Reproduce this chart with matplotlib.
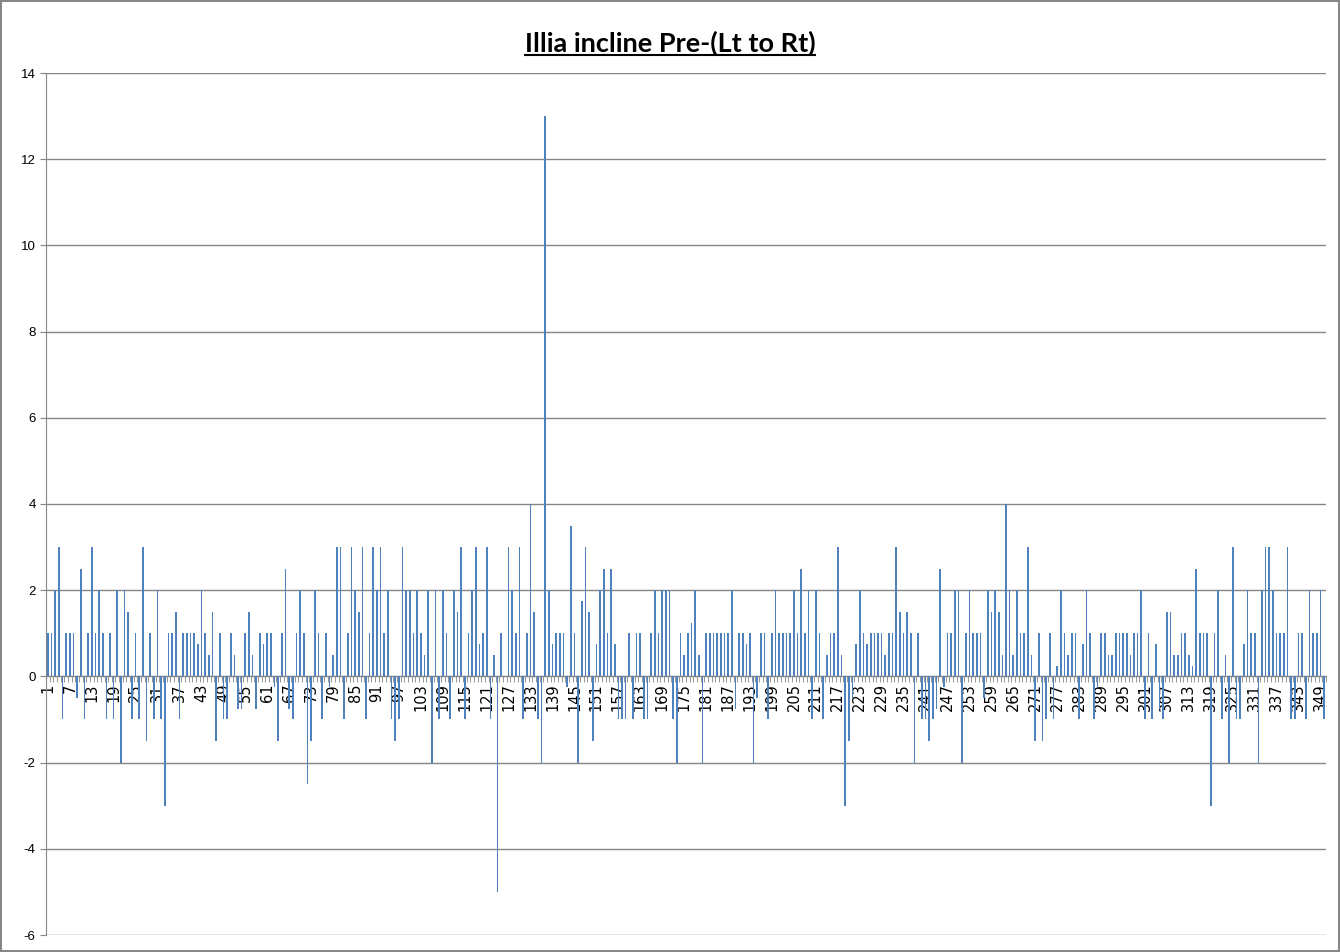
import numpy as np
import matplotlib.pyplot as plt
from matplotlib.lines import Line2D

plt.rcParams["axes.unicode_minus"] = False

# values, one per reading (1..350)
values = [
    1, 1, 2, 3, -1, 1, 1, 1, -0.5, 2.5,
    -1, 1, 3, 1, 2, 1, -1, 1, -1, 2,
    -2, 2, 1.5, -1, 1, -1, 3, -1.5, 1, -1,
    2, -1, -3, 1, 1, 1.5, -1, 1, 1, 1,
    1, 0.75, 2, 1, 0.5, 1.5, -1.5, 1, -1, -1,
    1, 0.5, -0.75, -0.75, 1, 1.5, 0.5, -0.75, 1, 0.75,
    1, 1, -0.25, -1.5, 1, 2.5, -0.75, -1, 1, 2,
    1, -2.5, -1.5, 2, 1, -1, 1, -0.25, 0.5, 3,
    3, -1, 1, 3, 2, 1.5, 3, -1, 1, 3,
    2, 3, 1, 2, -1, -1.5, -1, 3, 2, 2,
    1, 2, 1, 0.5, 2, -2, 2, -1, 2, 1,
    -1, 2, 1.5, 3, -1, 1, 2, 3, 0.75, 1,
    3, -1, 0.5, -5, 1, 0, 3, 2, 1, 3,
    -1, 1, 4, 1.5, -1, -2, 13, 2, 0.75, 1,
    1, 1, -0.25, 3.5, 1, -2, 1.75, 3, 1.5, -1.5,
    0.75, 2, 2.5, 1, 2.5, 0.75, -1, -1, -1, 1,
    -1, 1, 1, -1, -1, 1, 2, 1, 2, 2,
    2, -1, -2, 1, 0.5, 1, 1.25, 2, 0.5, -2,
    1, 1, 1, 1, 1, 1, 1, 2, -0.75, 1,
    1, 0.75, 1, -2, -0.5, 1, 1, -1, 1, 2,
    1, 1, 1, 1, 2, 1, 2.5, 1, 2, -1,
    2, 1, -1, 0.5, 1, 1, 3, 0.5, -3, -1.5,
    -0.5, 0.75, 2, 1, 0.75, 1, 1, 1, 1, 0.5,
    1, 1, 3, 1.5, 1, 1.5, 1, -2, 1, -1,
    -1, -1.5, -1, -0.75, 2.5, -0.25, 1, 1, 2, 2,
    -2, 1, 2, 1, 1, 1, -0.5, 2, 1.5, 2,
    1.5, 0.5, 4, 2, 0.5, 2, 1, 1, 3, 0.5,
    -1.5, 1, -1.5, -1, 1, -1, 0.25, 2, 1, 0.5,
    1, 1, -1, 0.75, 2, 1, -1, -0.25, 1, 1,
    0.5, 0.5, 1, 1, 1, 1, 0.5, 1, 1, 2,
    -1, 1, -1, 0.75, -0.75, -1, 1.5, 1.5, 0.5, 0.5,
    1, 1, 0.5, 0.25, 2.5, 1, 1, 1, -3, 1,
    2, -1, 0.5, -2, 3, -1, -1, 0.75, 2, 1,
    1, -2, 2, 3, 3, 2, 1, 1, 1, 3,
    -1, -1, 1, 1, -1, 2, 1, 1, 2, -1,
]
categories = np.arange(1, len(values) + 1)
tick_labels = [str(c) for c in categories[::6]]

title = "Illia incline Pre-(Lt to Rt)"
bar_color = "#4F81BD"
grid_color = "#868686"

fig = plt.figure(figsize=(13.4, 9.52), dpi=100)
fig.patch.set_edgecolor("#868686")
fig.patch.set_linewidth(1.5)
ax = fig.add_axes([46 / 1340, 1 - 935 / 952, 1280 / 1340, (935 - 73) / 952])

ax.bar(categories, values, width=0.45, color=bar_color, zorder=3)

ax.set_xlim(0.5, len(values) + 0.5)
ax.set_ylim(-6, 14)
ax.set_yticks(np.arange(-6, 15, 2))
ax.yaxis.grid(True, color=grid_color, linewidth=1)
ax.set_axisbelow(True)

ax.set_xticks(np.arange(0.5, len(values) + 1), minor=True)
ax.set_xticks(categories[::6], labels=tick_labels)
ax.tick_params(axis="x", which="major", length=0, pad=5, labelrotation=90,
               labelsize=10.5)
ax.tick_params(axis="x", which="minor", length=4, direction="out", color=grid_color)
ax.tick_params(axis="y", length=4, color=grid_color, labelsize=9.5)
for lbl in ax.get_xticklabels() + ax.get_yticklabels():
    lbl.set_family("Liberation Sans")

ax.spines["bottom"].set_position(("data", 0))
ax.spines["bottom"].set_color(grid_color)
ax.spines["left"].set_color(grid_color)
ax.spines["top"].set_visible(False)
ax.spines["right"].set_visible(False)

t = fig.text(0.5, 1 - 43 / 952, title, ha="center", va="center",
             fontsize=19.5, fontweight="bold", family="Lato")
fig.canvas.draw()
bb = t.get_window_extent().transformed(fig.transFigure.inverted())
fig.add_artist(Line2D([bb.x0, bb.x1], [bb.y0 + 0.001, bb.y0 + 0.001],
                      transform=fig.transFigure, color="black", linewidth=1.5))

fig.savefig("out.png", dpi=100, edgecolor=fig.get_edgecolor())
